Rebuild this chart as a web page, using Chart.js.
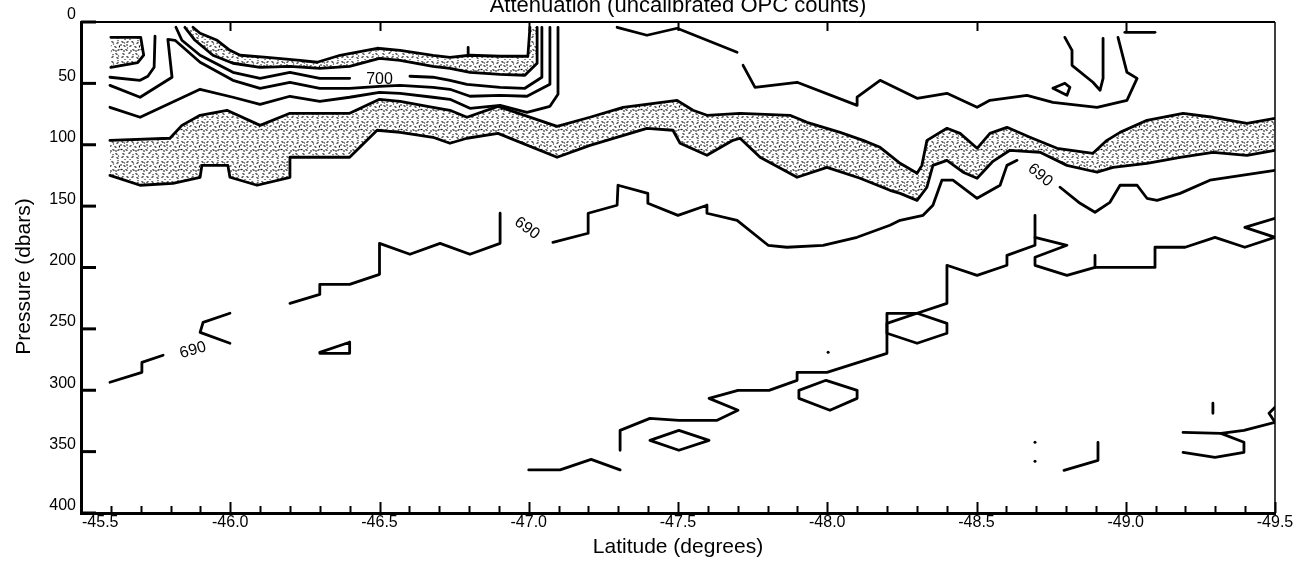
<!DOCTYPE html>
<html><head><meta charset="utf-8">
<script src="https://cdn.jsdelivr.net/npm/chart.js@4.4.1/dist/chart.umd.min.js"></script>
<style>html,body{margin:0;padding:0;background:#fff;}#wrap{width:1307px;height:562px;}</style>
</head><body><div id="wrap"><canvas id="c" width="1307" height="562"></canvas></div>
<script>
// ---------- data (latitude in degrees, pressure in dbars) ----------
const latTicks = [-45.5,-46.0,-46.5,-47.0,-47.5,-48.0,-48.5,-49.0,-49.5];
const presTicks = [0,50,100,150,200,250,300,350,400];
const chartTitle = 'Attenuation (uncalibrated OPC counts)';
const xTitle = 'Latitude (degrees)';
const yTitle = 'Pressure (dbars)';

const boxA = [[-45.60,12.5],[-45.70,12.5],[-45.71,27],[-45.69,33],[-45.60,37]];
const upperTop = [[-45.875,4.3],[-45.899,9.2],[-45.956,14.9],[-45.999,23.1],[-46.033,27.1],[-46.123,28.8],[-46.234,31.2],[-46.291,32.8],[-46.368,27.1],[-46.492,21.4],[-46.569,23.1],[-46.679,27.1],[-46.736,28.8],[-46.803,27.1],[-46.904,27.9],[-46.997,27.9],[-47.004,4.3]];
const upperBottom = [[-45.848,4.3],[-45.882,14.9],[-45.942,27.1],[-46.009,33.6],[-46.100,36.9],[-46.200,36.1],[-46.300,37.7],[-46.400,36.1],[-46.500,29.6],[-46.569,31.2],[-46.679,36.1],[-46.736,37.7],[-46.803,41.0],[-46.904,42.6],[-46.987,43.4],[-47.028,33.6],[-47.028,4.3]];
const line700a = [[-45.818,4.3],[-45.838,14.9],[-45.899,27.1],[-46.009,41.0],[-46.100,45.9],[-46.200,41.0],[-46.300,45.9],[-46.400,45.9]];
const line700b = [[-46.602,44.2],[-46.679,45.0],[-46.736,47.5],[-46.793,50.8],[-46.904,53.2],[-46.987,54.0],[-47.044,45.0],[-47.044,4.3]];
const lineB = [[-45.748,11.6],[-45.745,36.9],[-45.724,44.2],[-45.698,47.5],[-45.597,45.0]];
const lineC = [[-45.597,51.6],[-45.698,61.3],[-45.805,45.0],[-45.791,14.1],[-45.815,14.9],[-45.899,32.8],[-46.009,47.5],[-46.100,54.0],[-46.200,49.1],[-46.300,54.0],[-46.400,54.0],[-46.500,52.4],[-46.569,51.6],[-46.679,53.2],[-46.736,54.8],[-46.803,60.5],[-46.904,59.7],[-46.994,60.5],[-47.071,50.8],[-47.071,4.3]];
const lineD = [[-45.597,69.5],[-45.698,77.6],[-45.899,54.8],[-46.009,61.3],[-46.100,67.1],[-46.200,60.5],[-46.300,64.6],[-46.400,61.3],[-46.500,57.3],[-46.569,58.1],[-46.679,61.3],[-46.736,63.0],[-46.803,70.3],[-46.904,67.9],[-46.994,73.6],[-47.071,68.7],[-47.098,58.9],[-47.098,4.3]];
const spike = [[-46.797,20.6],[-46.797,27.1]];
const mainTop = [[-45.597,96.4],[-45.798,94.7],[-45.838,84.2],[-45.899,76.0],[-45.989,71.9],[-46.100,84.2],[-46.200,74.4],[-46.400,74.4],[-46.500,63.0],[-46.569,64.6],[-46.679,69.5],[-46.736,71.9],[-46.793,77.6],[-46.897,68.7],[-47.095,85.0],[-47.205,77.6],[-47.316,69.5],[-47.497,63.8],[-47.550,71.9],[-47.597,76.0],[-47.708,74.4],[-47.875,76.0],[-47.932,81.7],[-48.043,89.9],[-48.120,96.4],[-48.177,102.1],[-48.244,115.1],[-48.301,123.2],[-48.317,116.8],[-48.334,96.4],[-48.401,86.6],[-48.445,90.7],[-48.502,102.9],[-48.545,90.7],[-48.602,85.8],[-48.679,93.9],[-48.770,102.9],[-48.890,107.0],[-48.937,96.4],[-48.981,89.9],[-49.071,80.1],[-49.192,74.4],[-49.292,77.6],[-49.406,82.5],[-49.500,78.5]];
const mainBottom = [[-45.597,124.9],[-45.698,133.0],[-45.808,131.4],[-45.899,126.5],[-45.905,116.8],[-45.992,116.8],[-45.999,126.5],[-46.090,133.0],[-46.200,126.5],[-46.200,110.2],[-46.400,110.2],[-46.492,88.2],[-46.569,89.9],[-46.679,93.9],[-46.736,98.8],[-46.793,94.7],[-46.897,90.7],[-47.095,110.2],[-47.205,100.5],[-47.396,86.6],[-47.483,88.2],[-47.507,98.8],[-47.597,108.6],[-47.684,96.4],[-47.708,94.7],[-47.775,110.2],[-47.899,126.5],[-47.999,118.4],[-48.110,127.3],[-48.210,137.1],[-48.244,139.6],[-48.301,145.3],[-48.334,134.6],[-48.354,116.8],[-48.401,112.7],[-48.455,122.4],[-48.502,127.3],[-48.555,113.5],[-48.612,104.5],[-48.713,106.2],[-48.803,116.8],[-48.904,122.4],[-48.957,118.4],[-49.071,115.1],[-49.182,110.2],[-49.292,106.2],[-49.406,108.6],[-49.500,104.5]];
const line690a = [[-46.200,229.2],[-46.300,221.9],[-46.300,213.7],[-46.400,213.7],[-46.500,205.6],[-46.500,180.3],[-46.602,189.2],[-46.703,180.3],[-46.803,189.2],[-46.904,180.3],[-46.904,155.8]];
const line690b = [[-47.081,179.5],[-47.199,172.1],[-47.199,155.8],[-47.296,149.3],[-47.299,133.0],[-47.399,139.6],[-47.399,147.7],[-47.500,157.5],[-47.597,149.3],[-47.597,155.8],[-47.698,161.6],[-47.802,181.9],[-47.865,183.5],[-47.986,181.9],[-48.100,175.4],[-48.210,165.6],[-48.244,161.6],[-48.321,157.5],[-48.354,149.3],[-48.384,128.9],[-48.421,128.9],[-48.502,143.6],[-48.579,133.0],[-48.602,116.8],[-48.636,112.7]];
const line690c = [[-48.780,134.6],[-48.847,147.7],[-48.897,155.0],[-48.947,146.9],[-48.981,133.0],[-49.038,133.0],[-49.071,143.6],[-49.105,145.3],[-49.182,139.6],[-49.282,128.9],[-49.500,120.8]];
const lineK = [[-45.597,293.5],[-45.704,285.4],[-45.704,277.3],[-45.775,271.5]];
const lineK2 = [[-45.999,237.3],[-45.909,244.7],[-45.899,252.8],[-45.999,261.7]];
const tri = [[-46.300,269.1],[-46.400,260.9],[-46.400,269.9],[-46.300,269.9],[-46.300,269.1]];
const lineEa = [[-47.296,4.3],[-47.396,10.8],[-47.497,5.1],[-47.698,24.7]];
const lineEb = [[-47.718,35.3],[-47.758,53.2],[-47.899,49.1],[-48.100,67.9],[-48.100,61.3],[-48.177,47.5],[-48.301,62.2],[-48.401,58.1],[-48.502,69.5],[-48.545,63.8],[-48.669,59.7],[-48.756,65.4],[-48.904,69.5],[-49.004,63.8],[-49.038,45.9],[-49.004,41.0],[-48.974,12.5]];
const lineV = [[-48.796,12.5],[-48.820,23.1],[-48.820,35.3],[-48.890,49.1],[-48.914,55.6],[-48.924,45.9],[-48.924,13.3]];
const diamondS = [[-48.756,54.0],[-48.796,49.9],[-48.813,53.2],[-48.803,59.7],[-48.756,54.0]];
const topRight = [[-48.997,8.4],[-49.098,8.4]];
const lineF = [[-47.306,348.9],[-47.306,332.7],[-47.406,322.9],[-47.503,324.5],[-47.631,324.5],[-47.701,316.3],[-47.604,306.6],[-47.701,300.1],[-47.805,300.1],[-47.899,291.9],[-47.899,285.4],[-47.999,285.4],[-48.200,269.9],[-48.200,237.3],[-48.301,237.3],[-48.401,229.2],[-48.401,198.2],[-48.502,206.4],[-48.602,198.2],[-48.602,190.1],[-48.696,181.9],[-48.696,157.5]];
const hex1 = [[-48.200,245.5],[-48.301,237.3],[-48.401,245.5],[-48.401,253.6],[-48.301,261.7],[-48.200,253.6],[-48.200,245.5]];
const lineG = [[-48.696,175.4],[-48.803,181.9],[-48.696,191.7],[-48.696,198.2],[-48.803,206.4],[-48.897,199.9],[-49.098,199.9],[-49.098,183.5],[-49.199,183.5],[-49.299,175.4],[-49.399,183.5],[-49.500,175.4],[-49.399,167.3],[-49.500,159.9]];
const stubG = [[-48.897,190.1],[-48.897,199.9]];
const stubR = [[-49.292,310.6],[-49.292,318.8]];
const loopR = [[-49.5,313.9],[-49.480,318.8],[-49.5,326.1]];
const lineH = [[-49.192,334.3],[-49.319,335.1],[-49.396,332.7],[-49.5,326.1]];
const lineH2 = [[-49.319,335.1],[-49.396,342.4],[-49.396,350.6],[-49.299,354.7],[-49.192,350.6]];
const lineI = [[-48.907,342.4],[-48.907,357.1],[-48.793,365.2]];
const hex2 = [[-47.905,300.1],[-47.996,291.9],[-48.100,300.1],[-48.100,306.6],[-48.009,316.3],[-47.905,306.6],[-47.905,300.1]];
const diamond2 = [[-47.406,340.8],[-47.503,332.7],[-47.604,340.8],[-47.503,348.9],[-47.406,340.8]];
const lineJ = [[-47.0,364.9],[-47.105,364.9],[-47.209,356.3],[-47.306,364.9]];
const dots = [[-48.696,342.4],[-48.696,357.9],[-48.003,269.1]];

const contourLabels = [['700',-46.50,46.6],['690',-45.875,267.5],['690',-46.994,168.1],['690',-48.713,124.9]];
const labelAngles = [0,-16,36,40];

// ---------- build ----------
const FONT = '"Liberation Sans", Arial, Helvetica, sans-serif';
const toXY = a => a.map(([x,y]) => ({x,y}));
const lines = [boxA, upperTop, upperBottom, line700a, line700b, lineB, lineC, lineD, spike, mainTop, mainBottom,
  line690a, line690b, line690c, lineK, lineK2, tri, lineEa, lineEb, lineV, diamondS, topRight, lineF, hex1, lineG,
  stubG, stubR, loopR, lineH, lineH2, lineI, hex2, diamond2, lineJ];
const polygons = [boxA, upperTop.concat(upperBottom.slice().reverse()), mainTop.concat(mainBottom.slice().reverse())];

let pattern = null;
function getPattern(ctx){
  if (pattern) return pattern;
  const c = document.createElement('canvas'); c.width = 20; c.height = 20;
  const g = c.getContext('2d');
  g.fillStyle = '#fff'; g.fillRect(0,0,20,20);
  g.strokeStyle = '#111'; g.lineWidth = 1.25;
  const marks = [[1,1,3,2],[6,2,8,1],[11,1,13,2],[16,3,18,2],[3,5,5,6],[9,6,11,5],[14,6,16,7],[19,5,19,7],
    [0,9,2,9],[5,9,7,10],[12,9,14,10],[17,10,19,9],[2,13,4,14],[8,13,10,12],[15,13,17,14],[1,17,3,16],
    [6,16,8,17],[11,17,13,16],[16,17,18,18],[9,19,10,19],[4,19,5,19],[13,3,13,4],[7,7,7,8],[18,15,18,16],
    [10,10,11,11],[4,2,4,3],[15,10,16,11],[0,5,1,4],[12,14,13,14],[6,4,7,5],[17,0,18,0],[3,10,4,11]];
  marks.forEach(m => { g.beginPath(); g.moveTo(m[0]+.5,m[1]+.5); g.lineTo(m[2]+.5,m[3]+.5); g.stroke(); });
  pattern = ctx.createPattern(c,'repeat');
  return pattern;
}

const datasets = [];
polygons.forEach(p => datasets.push({data: toXY(p), stipple: true, showLine: false, pointRadius: 0}));
lines.forEach(l => datasets.push({data: toXY(l), showLine: true, pointRadius: 0, borderColor: '#000', borderWidth: 2.8,
  borderJoinStyle: 'round', borderCapStyle: 'round', fill: false, tension: 0}));
datasets.push({data: toXY(dots), showLine: false, pointRadius: 1.5, pointBackgroundColor: '#000', pointBorderWidth: 0});

const decor = {
  id: 'decor',
  beforeDatasetsDraw(chart){
    const {ctx, chartArea: a} = chart;
    ctx.save(); ctx.beginPath(); ctx.rect(a.left, a.top, a.width, a.height); ctx.clip();
    chart.data.datasets.forEach((ds, i) => {
      if (!ds.stipple) return;
      const pts = chart.getDatasetMeta(i).data;
      ctx.beginPath();
      pts.forEach((p, j) => j ? ctx.lineTo(p.x, p.y) : ctx.moveTo(p.x, p.y));
      ctx.closePath(); ctx.fillStyle = getPattern(ctx); ctx.fill();
    });
    ctx.restore();
  },
  afterDatasetsDraw(chart){
    const {ctx, scales: {x, y}} = chart;
    ctx.save(); ctx.fillStyle = '#000'; ctx.font = '16px ' + FONT; ctx.textAlign = 'center'; ctx.textBaseline = 'middle';
    contourLabels.forEach(([t, lx, ly], i) => {
      ctx.save(); ctx.translate(x.getPixelForValue(lx), y.getPixelForValue(ly));
      ctx.rotate(labelAngles[i] * Math.PI / 180); ctx.fillText(t, 0, 0); ctx.restore();
    });
    ctx.restore();
  },
  afterDraw(chart){
    const {ctx, chartArea: a, scales: {x, y}} = chart;
    ctx.save(); ctx.strokeStyle = '#000'; ctx.lineCap = 'butt';
    ctx.lineWidth = 2; ctx.beginPath(); ctx.moveTo(a.left, a.top); ctx.lineTo(a.right, a.top); ctx.stroke();
    ctx.lineWidth = 1.5; ctx.beginPath(); ctx.moveTo(a.right, a.top); ctx.lineTo(a.right, a.bottom); ctx.stroke();
    const lo = latTicks[0], hi = latTicks[latTicks.length-1];
    const n = Math.round((lo - hi) / 0.1);
    for (let k = 0; k <= n; k++) {
      const v = lo - k * 0.1; const px = Math.round(x.getPixelForValue(v)) + 0.5; const major = k % 5 === 0;
      ctx.lineWidth = 2; ctx.beginPath(); ctx.moveTo(px, a.bottom); ctx.lineTo(px, a.bottom - (major ? 11 : 7)); ctx.stroke();
      if (major && k > 0 && k < n) { ctx.beginPath(); ctx.moveTo(px, a.top); ctx.lineTo(px, a.top + 9); ctx.stroke(); }
    }
    presTicks.forEach(v => { const py = y.getPixelForValue(v); ctx.lineWidth = 3; ctx.beginPath(); ctx.moveTo(a.left, py); ctx.lineTo(a.left + 15, py); ctx.stroke(); });
    // x tick labels (first one kept inside the frame, as in the original)
    ctx.fillStyle = '#000'; ctx.font = '16px ' + FONT; ctx.textBaseline = 'middle';
    latTicks.forEach((v, i) => {
      ctx.textAlign = i === 0 ? 'left' : 'center';
      ctx.fillText(v.toFixed(1), i === 0 ? a.left + 1 : x.getPixelForValue(v), a.bottom + 10);
    });
    // y axis title
    ctx.font = '21px ' + FONT; ctx.textAlign = 'center';
    ctx.save(); ctx.translate(24, (a.top + a.bottom) / 2 + 9); ctx.rotate(-Math.PI / 2); ctx.fillText(yTitle, 0, 0); ctx.restore();
    // chart title (partly cut off at the top edge)
    ctx.font = '22px ' + FONT; ctx.textBaseline = 'alphabetic';
    ctx.fillText(chartTitle, (a.left + a.right) / 2, 12);
    ctx.restore();
  }
};

new Chart(document.getElementById('c'), {
  type: 'scatter',
  data: {datasets},
  plugins: [decor],
  options: {
    responsive: false, animation: false, devicePixelRatio: 1, events: [],
    layout: {padding: {top: 22, right: 32, left: 0, bottom: 0}},
    plugins: {legend: {display: false}, tooltip: {enabled: false}, title: {display: false}},
    scales: {
      x: {type: 'linear', position: 'bottom', reverse: true, min: latTicks[latTicks.length-1], max: latTicks[0],
        afterFit(s){ s.height = 49; },
        grid: {display: false, drawTicks: false}, border: {display: true, width: 3, color: '#000'},
        ticks: {display: false, stepSize: 0.5},
        title: {display: true, text: xTitle, color: '#000', font: {family: FONT, size: 21}, padding: {top: 0, bottom: 2}}},
      y: {type: 'linear', reverse: true, min: presTicks[0], max: presTicks[presTicks.length-1],
        afterFit(s){ s.width = 81; },
        grid: {display: false, drawTicks: false}, border: {display: true, width: 3, color: '#000'},
        ticks: {stepSize: 50, padding: 5, labelOffset: -7, color: '#000', font: {family: FONT, size: 16}},
        title: {display: false}}
    }
  }
});
</script></body></html>
